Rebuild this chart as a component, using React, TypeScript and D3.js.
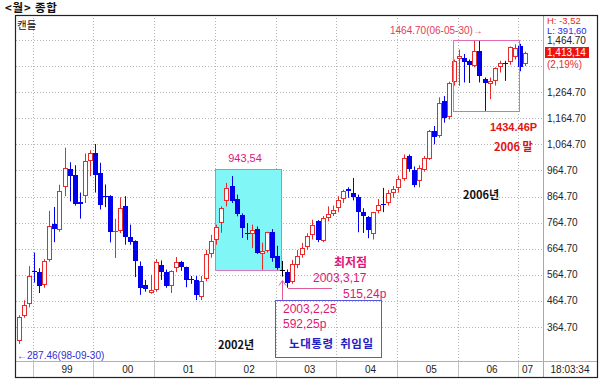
import React from "react";
import * as d3 from "d3";

const months = [
  "98-10", "98-11", "98-12",
  "99-01", "99-02", "99-03", "99-04", "99-05", "99-06", "99-07", "99-08", "99-09", "99-10", "99-11", "99-12",
  "00-01", "00-02", "00-03", "00-04", "00-05", "00-06", "00-07", "00-08", "00-09", "00-10", "00-11", "00-12",
  "01-01", "01-02", "01-03", "01-04", "01-05", "01-06", "01-07", "01-08", "01-09", "01-10", "01-11", "01-12",
  "02-01", "02-02", "02-03", "02-04", "02-05", "02-06", "02-07", "02-08", "02-09", "02-10", "02-11", "02-12",
  "03-01", "03-02", "03-03", "03-04", "03-05", "03-06", "03-07", "03-08", "03-09", "03-10", "03-11", "03-12",
  "04-01", "04-02", "04-03", "04-04", "04-05", "04-06", "04-07", "04-08", "04-09", "04-10", "04-11", "04-12",
  "05-01", "05-02", "05-03", "05-04", "05-05", "05-06", "05-07", "05-08", "05-09", "05-10", "05-11", "05-12",
  "06-01", "06-02", "06-03", "06-04", "06-05", "06-06", "06-07", "06-08", "06-09", "06-10", "06-11", "06-12",
  "07-01", "07-02",
];

const open = [
  310, 405, 452,
  578, 576, 525, 620, 760, 738, 900, 972, 948, 842, 866, 1000,
  1030, 955, 868, 868, 728, 731, 827, 709, 693, 600, 526, 495,
  505, 604, 575, 522, 590, 614, 594, 548, 545, 479, 547, 645,
  699, 763, 847, 904, 856, 795, 724, 722, 740, 645, 657, 727,
  635, 585, 577, 536, 603, 640, 672, 718, 770, 695, 783, 799,
  821, 856, 894, 880, 863, 806, 786, 720, 808, 838, 840, 878,
  896, 932, 1019, 968, 923, 968, 1010, 1116, 1097, 1231, 1170, 1302,
  1392, 1394, 1385, 1366, 1423, 1315, 1296, 1308, 1363, 1377, 1379, 1400,
  1440, 1372,
];

const high = [
  410, 467, 598,
  650, 590, 625, 810, 825, 910, 1052, 996, 985, 880, 1030, 1042,
  1066, 994, 911, 870, 779, 862, 866, 757, 697, 616, 545, 565,
  625, 620, 585, 582, 633, 618, 596, 560, 560, 560, 660, 718,
  757, 827, 917, 943.54, 872, 800, 763, 757, 750, 688, 730, 740,
  676, 618, 585, 622, 660, 687, 724, 776, 775, 790, 827, 830,
  866, 891, 900, 936, 872, 820, 790, 806, 855, 898, 890, 905,
  945, 1026, 1026, 980, 985, 1020, 1120, 1135, 1245, 1250, 1305, 1390,
  1428, 1411, 1390, 1462, 1464.7, 1321, 1321, 1360, 1385, 1385, 1440, 1448,
  1450, 1420,
];

const low = [
  300, 400, 440,
  535, 495, 515, 615, 690, 730, 866, 846, 830, 780, 840, 943,
  880, 815, 824, 689, 629, 725, 680, 680, 556, 488, 500, 492,
  500, 545, 515, 495, 575, 580, 517, 530, 468, 468, 540, 630,
  680, 726, 827, 840, 789, 706, 699, 667, 645, 584, 650, 615,
  584, 558, 515.24, 530, 590, 630, 660, 700, 690, 690, 770, 790,
  805, 840, 860, 850, 728, 725, 705, 700, 800, 805, 830, 860,
  880, 925, 960, 900, 900, 960, 1005, 1065, 1090, 1148, 1160, 1290,
  1289, 1302, 1300, 1360, 1302, 1193, 1238, 1290, 1340, 1308, 1370, 1390,
  1345, 1365,
];

const close = [
  403, 450, 562,
  574, 522, 618, 752, 740, 885, 976, 943, 838, 838, 1000, 1030,
  949, 833, 864, 730, 734, 822, 709, 690, 616, 513, 510, 505,
  614, 575, 522, 578, 614, 593, 545, 545, 488, 540, 645, 693,
  748, 821, 898, 847, 799, 744, 722, 738, 648, 657, 727, 629,
  591, 584, 535, 605, 635, 667, 712, 757, 699, 783, 799, 815,
  853, 885, 885, 862, 806, 790, 737, 804, 834, 834, 878, 892,
  932, 1013, 971, 910, 975, 1013, 1116, 1094, 1222, 1167, 1300, 1385,
  1404, 1379, 1368, 1423, 1327, 1299, 1308, 1356, 1376, 1372, 1436, 1434.46,
  1360, 1413.14,
];

const yearLabels = ["99", "00", "01", "02", "03", "04", "05", "06", "07"];
const yTicks = [364.7, 464.7, 564.7, 664.7, 764.7, 864.7, 964.7, 1064.7, 1164.7, 1264.7, 1364.7, 1464.7];
const hiddenTickLabels = [1364.7];

const RED = "#e82a2a";
const BLUE = "#0000ee";
const PINK = "#e0157a";
const NUM_FONT = "'Liberation Sans', Arial, sans-serif";
const KR_FONT = "'Noto Sans CJK KR', 'Noto Sans', sans-serif";

export default function App() {
  const W = 600;
  const H = 381;
  const plotL = 16;
  const plotR = 543;
  const plotT = 15;
  const plotB = 361;
  const frameR = 597;
  const frameB = 377;
  const step = 5.06;
  const firstCenter = 20;

  const x = d3
    .scaleBand<string>()
    .domain(months)
    .range([firstCenter - step / 2, firstCenter - step / 2 + step * months.length])
    .padding(0);
  const cx = (m: string) => (x(m) as number) + x.bandwidth() / 2;
  const y = d3.scaleLinear().domain([364.7, 1464.7]).range([327, 40]);

  const candles = months.map((m, i) => ({ m, o: open[i], h: high[i], l: low[i], c: close[i] }));

  const years = yearLabels.map((yy) => {
    const ms = months.filter((m) => m.startsWith(yy + "-"));
    const first = ms[0];
    const last = ms[ms.length - 1];
    return {
      label: yy,
      boundary: Math.round(x(first) as number) + 0.5,
      center: (cx(first) + cx(last)) / 2 + 4,
    };
  });

  const fmt = d3.format(",.2f");

  const cyanL = x("02-01") as number;
  const cyanR = x("03-02") as number;
  const cyanT = y(943.54) - 7;
  const cyanB = y(584) + 0.5;
  const pinkL = x("05-12") as number;
  const pinkR = x("07-01") as number;
  const pinkT = y(1464.7);
  const pinkB = y(1193) + 0.5;
  const febX = Math.round(cx("03-02")) - 0.5;
  const marX = cx("03-03");
  const lowY = Math.round(y(515.24)) + 0.5;

  return (
    <svg
      width={W}
      height={H}
      viewBox={`0 0 ${W} ${H}`}
      style={{ position: "absolute", left: 0, top: 0, background: "#fff" }}
    >
      <rect x={0} y={0} width={W} height={H} fill="#fff" />
      <text x={5} y={12} fontFamily={KR_FONT} fontWeight="bold" fontSize={11.5} letterSpacing={0.8} fill="#111">
        {"<월> 종합"}
      </text>

      {yTicks.map((t) => (
        <line
          key={"g" + t}
          x1={plotL}
          x2={plotR}
          y1={Math.round(y(t)) + 0.5}
          y2={Math.round(y(t)) + 0.5}
          stroke="#b4b4b4"
          strokeDasharray="1 2"
        />
      ))}
      {years.map((yr) => (
        <line
          key={"v" + yr.label}
          x1={yr.boundary}
          x2={yr.boundary}
          y1={plotT}
          y2={plotB}
          stroke="#b4b4b4"
          strokeDasharray="1 2"
        />
      ))}

      <rect
        x={Math.round(cyanL) + 0.5}
        y={Math.round(cyanT) + 0.5}
        width={Math.round(cyanR - cyanL)}
        height={Math.round(cyanB - cyanT)}
        fill="#80f6f6"
        stroke="#d877c0"
        strokeWidth={1}
      />

      {candles.map((d) => {
        const special = d.m === "03-02";
        const up = d.c > d.o;
        const color = special ? "#000" : up ? RED : BLUE;
        const n = Math.round(cx(d.m));
        const wx = n - 0.5;
        const yH = y(d.h);
        const yL = y(d.l);
        const yT = Math.round(y(Math.max(d.o, d.c)));
        const yB = Math.round(y(Math.min(d.o, d.c)));
        if (yB - yT <= 1) {
          return (
            <g key={d.m}>
              <line x1={wx} x2={wx} y1={yH} y2={yL} stroke={color} />
              <line x1={n - 3} x2={n + 2} y1={yT + 0.5} y2={yT + 0.5} stroke={color} />
            </g>
          );
        }
        if (up) {
          return (
            <g key={d.m}>
              <line x1={wx} x2={wx} y1={yH} y2={yT} stroke={color} />
              <line x1={wx} x2={wx} y1={yB} y2={yL} stroke={color} />
              <rect x={n - 2.5} y={yT + 0.5} width={4} height={yB - yT - 1} fill="#fff" stroke={color} />
            </g>
          );
        }
        return (
          <g key={d.m}>
            <line x1={wx} x2={wx} y1={yH} y2={yL} stroke={color} />
            <rect x={n - 3} y={yT} width={5} height={yB - yT} fill={color} />
          </g>
        );
      })}

      <rect
        x={Math.round(pinkL) + 0.5}
        y={Math.round(pinkT) + 0.5}
        width={Math.round(pinkR - pinkL)}
        height={Math.round(pinkB - pinkT)}
        fill="none"
        stroke="#e46cb4"
      />

      <text x={390} y={34} fontFamily={NUM_FONT} fontSize={10} fill="#e43a55">
        {"1464.70(06-05-30)→"}
      </text>
      <text x={245} y={162} textAnchor="middle" fontFamily={NUM_FONT} fontSize={11} fill={PINK}>
        943,54
      </text>
      <text x={334} y={267} fontFamily={KR_FONT} fontWeight="bold" fontSize={12} fill={PINK}>
        최저점
      </text>
      <text x={313} y={282} fontFamily={NUM_FONT} fontSize={12} fill={PINK}>
        2003,3,17
      </text>
      <text x={343} y={298} fontFamily={NUM_FONT} fontSize={12} fill={PINK}>
        515,24p
      </text>
      <line x1={marX} x2={332} y1={lowY} y2={lowY} stroke="#e25a9a" />
      <line x1={febX} x2={febX} y1={281} y2={300} stroke="#e25a9a" />
      <polyline
        points={`${febX - 3.5},${285.5} ${febX},${280.5} ${febX + 3.5},${285.5}`}
        fill="none"
        stroke="#e25a9a"
      />
      <rect x={275.5} y={300.5} width={106} height={57} fill="none" stroke="#5858d8" />
      <text x={283} y={313} fontFamily={NUM_FONT} fontSize={12} fill={PINK}>
        2003,2,25
      </text>
      <text x={283} y={328} fontFamily={NUM_FONT} fontSize={12} fill={PINK}>
        592,25p
      </text>
      <text
        x={289}
        y={348}
        xmlSpace="preserve"
        style={{ whiteSpace: "pre" }}
        fontFamily={KR_FONT}
        fontWeight="bold"
        fontSize={11.5}
        letterSpacing={0.6}
        fill="#2222c4"
      >
        {"노대통령  취임일"}
      </text>
      <text x={218} y={349} fontFamily={KR_FONT} fontWeight="bold" fontSize={11} fill="#111">
        2002년
      </text>
      <text x={463} y={199} fontFamily={KR_FONT} fontWeight="bold" fontSize={11} fill="#111">
        2006년
      </text>
      <text x={490} y={131} fontFamily={NUM_FONT} fontWeight="bold" fontSize={11} fill="#e01414">
        1434.46P
      </text>
      <text x={494} y={151} fontFamily={KR_FONT} fontWeight="bold" fontSize={11} fill="#e01414">
        2006 말
      </text>
      <text x={17} y={359} fontFamily={NUM_FONT} fontSize={10} fill="#3030d0">
        {"←287.46(98-09-30)"}
      </text>
      <text x={17} y={29} fontFamily={KR_FONT} fontSize={10.5} fill="#111">
        캔들
      </text>

      <line x1={plotR + 0.5} x2={plotR + 0.5} y1={plotT} y2={frameB} stroke="#a8a8a8" />
      {yTicks
        .filter((t) => !hiddenTickLabels.includes(t))
        .map((t) => (
          <text key={"t" + t} x={547} y={y(t) + 3.5} fontFamily={NUM_FONT} fontSize={10} fill="#222">
            {fmt(t)}
          </text>
        ))}
      <text x={547} y={24} fontFamily={NUM_FONT} fontSize={9.5} fill="#e82a2a">
        H: -3,52
      </text>
      <text x={547} y={34} fontFamily={NUM_FONT} fontSize={9.5} fill="#2a2ae0">
        L: 391,60
      </text>
      <rect x={545} y={47} width={44} height={11} fill="#ee1111" />
      <text x={547} y={56} fontFamily={NUM_FONT} fontSize={10} fill="#fff">
        1,413,14
      </text>
      <text x={547} y={68} fontFamily={NUM_FONT} fontSize={10} fill="#e82a2a">
        (2,19%)
      </text>

      <line x1={plotL} x2={frameR} y1={plotB + 0.5} y2={plotB + 0.5} stroke="#b0b0b0" />
      {years.map((yr) => (
        <line
          key={"s" + yr.label}
          x1={yr.boundary}
          x2={yr.boundary}
          y1={plotB}
          y2={frameB}
          stroke="#c4c4c4"
        />
      ))}
      {years.map((yr) => (
        <text
          key={"l" + yr.label}
          x={yr.center}
          y={373}
          textAnchor="middle"
          fontFamily={NUM_FONT}
          fontSize={10}
          fill="#222"
        >
          {yr.label}
        </text>
      ))}
      <text x={570} y={373} textAnchor="middle" fontFamily={NUM_FONT} fontSize={10} fill="#222">
        18:03:34
      </text>

      <rect
        x={15.5}
        y={15.5}
        width={frameR - 15}
        height={frameB - 15}
        fill="none"
        stroke="#222"
        strokeWidth={1.2}
      />
    </svg>
  );
}
